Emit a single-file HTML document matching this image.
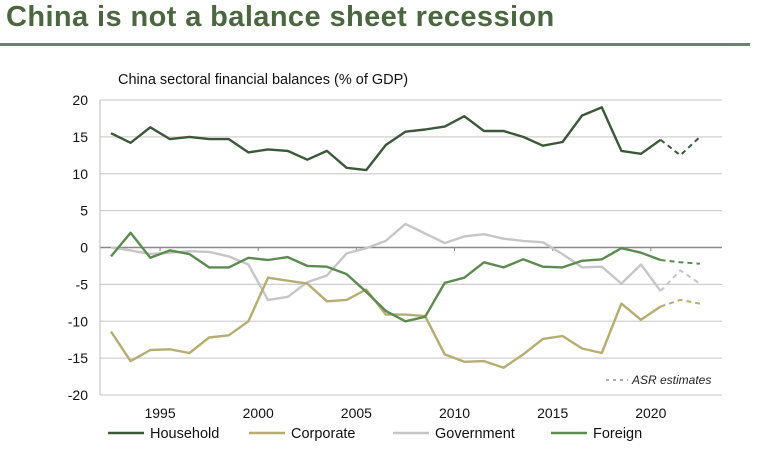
<!DOCTYPE html>
<html><head><meta charset="utf-8"><style>
body{margin:0;width:758px;height:453px;background:#fff;font-family:"Liberation Sans",sans-serif;overflow:hidden;position:relative}
#title{position:absolute;left:6px;top:1px;font-size:29px;font-weight:bold;color:#4b6640;letter-spacing:0.4px}
#rule{position:absolute;left:0;top:43px;width:750px;height:3px;background:#6b8560}
</style></head><body>
<div id="title">China is not a balance sheet recession</div>
<div id="rule"></div>
<svg id="chart" width="758" height="453" style="position:absolute;left:0;top:0"></svg>
<script>
const years=[1993,1994,1995,1996,1997,1998,1999,2000,2001,2002,2003,2004,2005,2006,2007,2008,2009,2010,2011,2012,2013,2014,2015,2016,2017,2018,2019,2020,2021,2022,2023];
const household=[15.5,14.2,16.3,14.7,15.0,14.7,14.7,12.9,13.3,13.1,11.9,13.1,10.8,10.5,13.9,15.7,16.0,16.4,17.8,15.8,15.8,15.0,13.8,14.3,17.9,19.0,13.1,12.7,14.6,12.5,15.0];
const corporate=[-11.4,-15.4,-13.9,-13.8,-14.3,-12.2,-11.9,-10.0,-4.1,-4.5,-4.9,-7.3,-7.1,-5.7,-9.1,-9.1,-9.3,-14.5,-15.5,-15.4,-16.3,-14.5,-12.4,-12.0,-13.7,-14.3,-7.6,-9.8,-8.0,-7.1,-7.6];
const government=[0.0,-0.4,-0.9,-0.7,-0.5,-0.6,-1.2,-2.3,-7.1,-6.7,-4.7,-3.8,-0.8,-0.1,0.9,3.2,1.9,0.6,1.5,1.8,1.2,0.9,0.7,-0.9,-2.7,-2.6,-4.9,-2.3,-5.9,-3.1,-4.9];
const foreign=[-1.2,2.0,-1.4,-0.4,-0.9,-2.7,-2.7,-1.4,-1.7,-1.3,-2.5,-2.6,-3.6,-6.0,-8.6,-10.0,-9.4,-4.8,-4.1,-2.0,-2.7,-1.6,-2.6,-2.7,-1.8,-1.6,-0.1,-0.7,-1.7,-2.0,-2.2];
const yTicks=[20,15,10,5,0,-5,-10,-15,-20];
const xTicks=[1995,2000,2005,2010,2015,2020];
const estimateFrom=2021;

const svg=document.getElementById('chart');
const NS='http://www.w3.org/2000/svg';
const x=y=>111+(y-1993)*19.63;
const yS=v=>247.5-v*7.375;
function mk(tag,attrs,parent){const e=document.createElementNS(NS,tag);for(const k in attrs)e.setAttribute(k,attrs[k]);(parent||svg).appendChild(e);return e;}

let t=mk('text',{x:118,y:84,'font-size':14.5,fill:'#111'});t.textContent='China sectoral financial balances (% of GDP)';



yTicks.forEach(v=>{
  const g=mk('line',{x1:100,x2:722,y1:yS(v),y2:yS(v),stroke:v===0?'#888':'#d0d0d0','stroke-width':v===0?1.5:1.3});
  
  
  const l=mk('text',{x:88,y:yS(v)+5,'font-size':14,'text-anchor':'end',fill:'#111'});l.textContent=v;
  
  
});
mk('line',{x1:100,x2:100,y1:100,y2:395,stroke:'#bbb','stroke-width':1});
xTicks.forEach(yr=>{
  const px=x(yr+0.5);
  mk('line',{x1:px,x2:px,y1:247,y2:251,stroke:'#888'});
  const l=mk('text',{x:px,y:418,'font-size':14,'text-anchor':'middle',fill:'#111'});l.textContent=yr;
  
  
});

const series=[['government',government,'#c6c6c6'],['corporate',corporate,'#b5ad72'],['foreign',foreign,'#5d8a50'],['household',household,'#3c573a']];
series.forEach(([name,vals,col])=>{
  const solid=[],dash=[];
  years.forEach((yr,i)=>{const p=x(yr).toFixed(1)+','+yS(vals[i]).toFixed(1);if(yr<=estimateFrom)solid.push(p);if(yr>=estimateFrom)dash.push(p);});
  const a=mk('polyline',{points:solid.join(' '),fill:'none',stroke:col,'stroke-width':2.4,'stroke-linejoin':'round'});
  
  
  const b=mk('polyline',{points:dash.join(' '),fill:'none',stroke:col,'stroke-width':2,'stroke-dasharray':'5,4'});
  
  
});

const est=mk('g',{});


mk('line',{x1:606,x2:628,y1:380,y2:380,stroke:'#555','stroke-dasharray':'3,4'},est);
const et=mk('text',{x:632,y:384,'font-size':12,'font-style':'italic',fill:'#222'},est);et.textContent='ASR estimates';

const legend=[['Household','#3c573a',108],['Corporate','#b5ad72',249],['Government','#c6c6c6',393],['Foreign','#5d8a50',551]];
legend.forEach(([n,c,lx])=>{
  const g=mk('g',{});
  
  
  mk('line',{x1:lx,x2:lx+36,y1:433,y2:433,stroke:c,'stroke-width':2.5},g);
  const tt=mk('text',{x:lx+42,y:438,'font-size':14.5,fill:'#111'},g);tt.textContent=n;
});
</script>
</body></html>
